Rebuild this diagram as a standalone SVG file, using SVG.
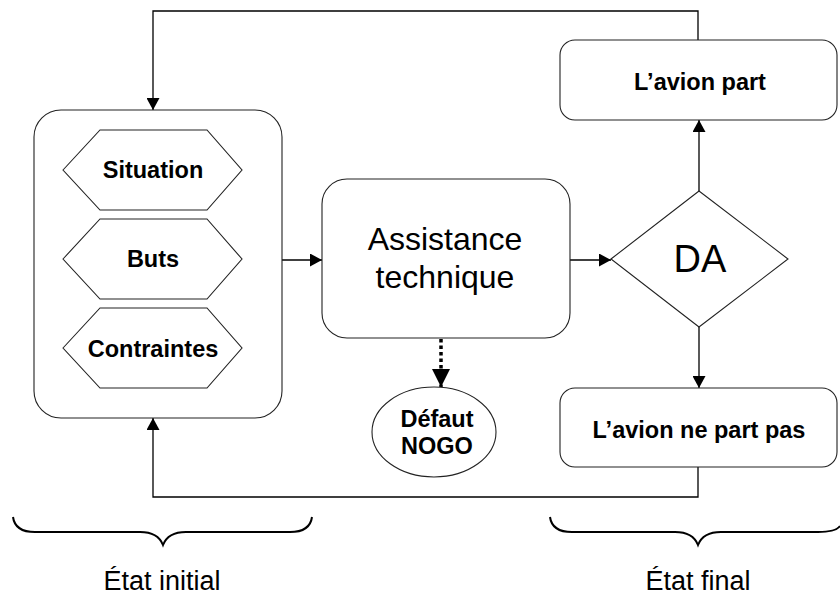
<svg xmlns="http://www.w3.org/2000/svg" width="840" height="595" viewBox="0 0 840 595">
<style>
.box{fill:#fff;stroke:#222;stroke-width:1.1}
.con{fill:none;stroke:#000;stroke-width:1.3}
.b{font-family:"Liberation Sans",Arial,sans-serif;font-weight:bold;font-size:23.5px;text-anchor:middle;fill:#000}
.r{font-family:"Liberation Sans",Arial,sans-serif;text-anchor:middle;fill:#000}
.brace{fill:none;stroke:#000;stroke-width:2}
</style>
<defs>
<marker id="ah" markerUnits="userSpaceOnUse" markerWidth="13" markerHeight="13" refX="12" refY="6.5" orient="auto">
<path d="M0,0 L12,6.5 L0,13 Z" fill="#000"/>
</marker>
<marker id="ahb" markerUnits="userSpaceOnUse" markerWidth="19" markerHeight="19" refX="18" refY="9" orient="auto">
<path d="M0,0 L18,9 L0,18 Z" fill="#000"/>
</marker>
</defs>
<rect width="840" height="595" fill="#fff"/>

<g id="connectors">
<polyline class="con" points="698,40 698,11 153,11 153,110" marker-end="url(#ah)"/>
<line class="con" x1="282" y1="260" x2="322" y2="260" marker-end="url(#ah)"/>
<line class="con" x1="570" y1="260" x2="611" y2="260" marker-end="url(#ah)"/>
<line class="con" x1="699" y1="191" x2="699" y2="120" marker-end="url(#ah)"/>
<line class="con" x1="699" y1="327" x2="699" y2="388" marker-end="url(#ah)"/>
<polyline class="con" points="698,467 698,497 153,497 153,418" marker-end="url(#ah)"/>
<line x1="441" y1="339" x2="441" y2="387" stroke="#000" stroke-width="3.5" stroke-dasharray="3.5,3" marker-end="url(#ahb)"/>
</g>

<g id="etat-initial-box">
<rect class="box" x="34" y="110" width="248" height="308" rx="27" ry="27"/>
</g>
<g id="situation">
<polygon class="box" points="63,170 100,130 207,130 242,170 207,210 100,210"/>
<text class="b" x="153" y="178">Situation</text>
</g>
<g id="buts">
<polygon class="box" points="63,259 100,219 207,219 242,259 207,299 100,299"/>
<text class="b" x="153" y="267">Buts</text>
</g>
<g id="contraintes">
<polygon class="box" points="63,348 100,308 207,308 242,348 207,388 100,388"/>
<text class="b" x="153" y="357">Contraintes</text>
</g>

<g id="assistance">
<rect class="box" x="322" y="179" width="248" height="159" rx="25" ry="25"/>
<text class="r" x="445" y="250" font-size="32">Assistance</text>
<text class="r" x="445" y="288" font-size="32">technique</text>
</g>

<g id="defaut">
<ellipse class="box" cx="434" cy="432" rx="62" ry="45"/>
<text class="b" x="437" y="427" font-size="21">Défaut</text>
<text class="b" x="437" y="454" font-size="21">NOGO</text>
</g>

<g id="da">
<polygon class="box" points="611,259 699,191 788,259 699,327"/>
<text class="r" x="700" y="272" font-size="38">DA</text>
</g>

<g id="avion-part">
<rect class="box" x="560" y="40" width="277" height="80" rx="15" ry="15"/>
<text class="b" x="700" y="90" font-size="24">L’avion part</text>
</g>

<g id="avion-ne-part-pas">
<rect class="box" x="560" y="388" width="277" height="79" rx="15" ry="15"/>
<text class="b" x="699" y="438" font-size="24">L’avion ne part pas</text>
</g>

<g id="braces">
<path class="brace" d="M13,517 Q15,532 35,532 L140,532 Q158,532 163,545 Q168,532 186,532 L290,532 Q310,532 312,517"/>
<path class="brace" d="M550,517 Q552,532 572,532 L675,532 Q693,532 698,545 Q703,532 721,532 L818,532 Q836,532 840,526"/>
</g>

<g id="labels">
<text class="r" x="162" y="590" font-size="27">État initial</text>
<text class="r" x="698" y="590" font-size="27">État final</text>
</g>
</svg>
